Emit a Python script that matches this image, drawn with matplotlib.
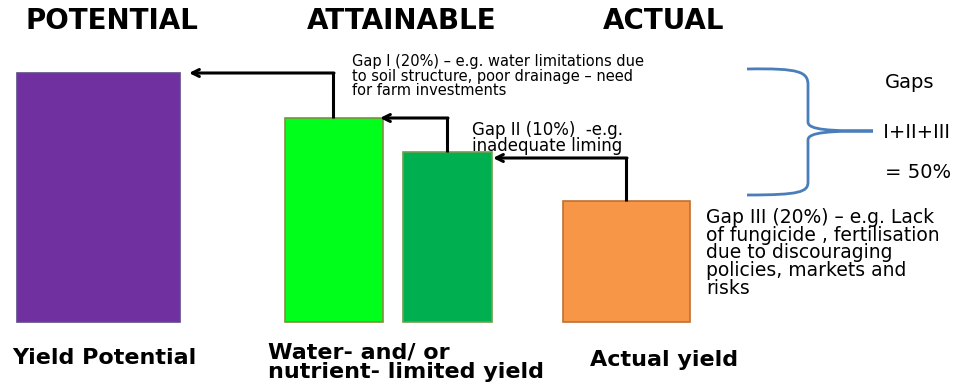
import matplotlib
matplotlib.use("Agg")
import matplotlib.pyplot as plt
from matplotlib.path import Path
from matplotlib.patches import PathPatch
import numpy as np

# yield levels (bar heights above the common baseline)
stages = ["POTENTIAL", "ATTAINABLE", "ACTUAL"]
bar_labels = ["Yield Potential", "Water- and/ or\nnutrient- limited yield", "", "Actual yield"]
yields = [249, 204, 170, 121]
bar_colors = ["#7030a0", "#00ff1a", "#00b050", "#f79646"]
edge_colors = ["#5b4a8a", "#7f8f3f", "#6f9f4f", "#c0702f"]

gap_texts = [
    "Gap I (20%) \u2013 e.g. water limitations due\nto soil structure, poor drainage \u2013 need\nfor farm investments",
    "Gap II (10%)  -e.g.\ninadequate liming",
    "Gap III (20%) \u2013 e.g. Lack\nof fungicide , fertilisation\ndue to discouraging\npolicies, markets and\nrisks",
]
total_text = ["Gaps", " I+II+III", "= 50%"]

W, H = 961, 385
base = H - 322
lefts = np.array([17, 285, 403, 563])
rights = np.array([180, 383, 492, 690])

def py(p):
    # pixel row -> data y
    return H - p

fig = plt.figure(figsize=(W / 100, H / 100), dpi=100)
ax = fig.add_axes([0, 0, 1, 1])
ax.set_xlim(0, W)
ax.set_ylim(0, H)
ax.axis("off")

ax.bar((lefts + rights) / 2, yields, width=rights - lefts, bottom=base,
       color=bar_colors, edgecolor=edge_colors, linewidth=1.2)

tops = base + np.array(yields)

# gap arrows: up from each bar, then left to the previous bar
arrow_x = [333, 447, 626]
drop = [0, 0, 6]
tip_gap = [9, -3, 1]
for i in range(1, 4):
    x0 = arrow_x[i - 1]
    yh = tops[i - 1] - drop[i - 1]
    ax.plot([x0, x0], [tops[i], yh], color="black", lw=2.2, solid_capstyle="butt")
    ax.annotate("", xy=(rights[i - 1] + tip_gap[i - 1], yh), xytext=(x0 + 1, yh),
                arrowprops=dict(arrowstyle="->, head_length=0.5, head_width=0.25",
                                color="black", lw=2.2, shrinkA=0, shrinkB=0))

# headings
font = "DejaVu Sans"
for s, x in zip(stages, [25, 307, 603]):
    ax.text(x, py(21), s, fontsize=20, fontweight="bold", family=font,
            ha="left", va="center")

# bar captions
ax.text(12, py(358), bar_labels[0], fontsize=16, fontweight="bold", family=font,
        va="center")
ax.text(268, py(362), bar_labels[1], fontsize=16, fontweight="bold", family=font,
        va="center", linespacing=0.95)
ax.text(590, py(360), bar_labels[3], fontsize=16, fontweight="bold", family=font,
        va="center")

# gap descriptions
ax.text(352, py(76), gap_texts[0], fontsize=10.5, family=font, va="center",
        linespacing=0.92)
ax.text(472, py(138), gap_texts[1], fontsize=12, family=font, va="center",
        linespacing=0.92)
ax.text(706, py(253), gap_texts[2], fontsize=13.5, family=font, va="center",
        linespacing=0.93)

# brace
bx, tx = 808, 873
verts = [(747, py(69)), (800, py(68)), (808, py(72)), (808, py(85)),
         (808, py(122)),
         (808, py(130)), (830, py(131)), (tx, py(131)),
         (830, py(131)), (808, py(132)), (808, py(140)),
         (808, py(182)),
         (808, py(192)), (800, py(195)), (747, py(195))]
codes = [Path.MOVETO, Path.CURVE4, Path.CURVE4, Path.CURVE4,
         Path.LINETO,
         Path.CURVE4, Path.CURVE4, Path.CURVE4,
         Path.CURVE4, Path.CURVE4, Path.CURVE4,
         Path.LINETO,
         Path.CURVE4, Path.CURVE4, Path.CURVE4]
ax.add_patch(PathPatch(Path(verts, codes), facecolor="none", edgecolor="#4a7ebb", lw=2))

for s, x, y in zip(total_text, [885, 877, 885], [83, 132, 172]):
    ax.text(x, py(y), s, fontsize=14, family=font, va="center")

fig.savefig("out.png", dpi=100)
